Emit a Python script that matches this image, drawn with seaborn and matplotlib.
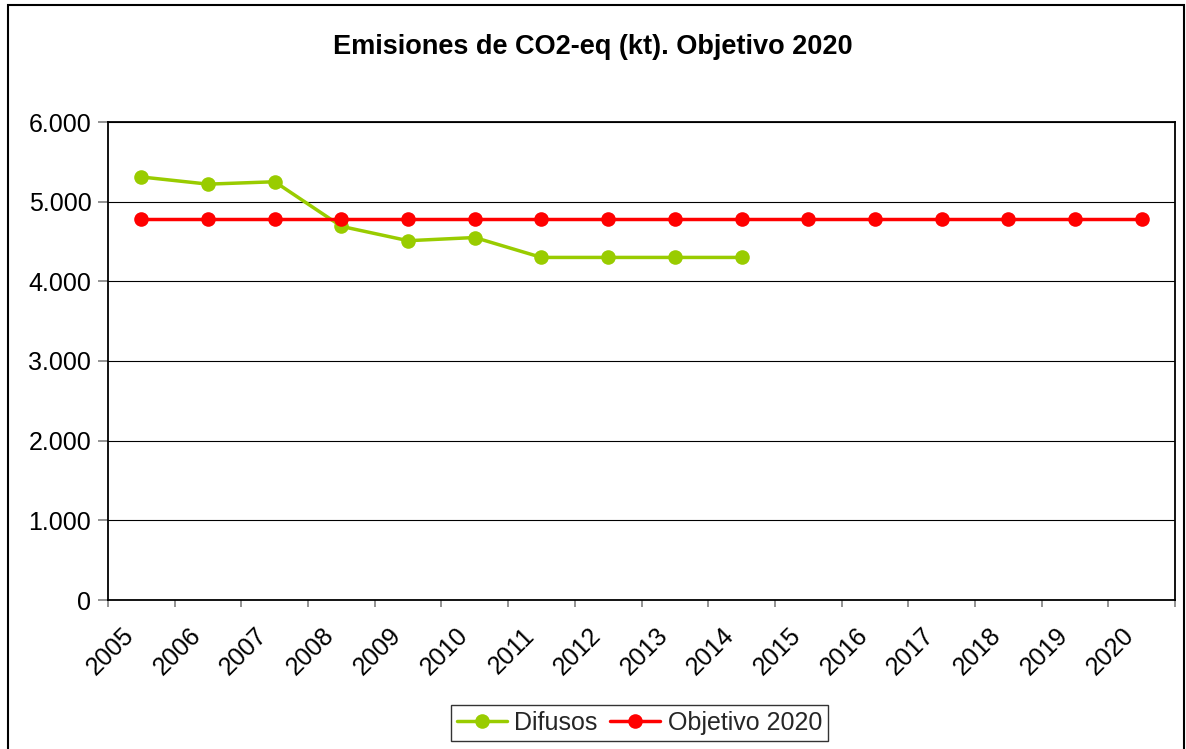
import matplotlib
matplotlib.use("Agg")
import matplotlib.pyplot as plt
import matplotlib.patches as mpatches
import matplotlib.transforms as mtransforms
import seaborn as sns
import pandas as pd
import numpy as np

years = list(range(2005, 2021))
difusos = [5310, 5220, 5250, 4690, 4510, 4550, 4300, 4300, 4300, 4300,
           None, None, None, None, None, None]
objetivo = [4780] * 16
series_names = ["Difusos", "Objetivo 2020"]
colors = ["#99CC00", "#FF0000"]
ytick_vals = [0, 1000, 2000, 3000, 4000, 5000, 6000]
ytick_labels = ["0", "1.000", "2.000", "3.000", "4.000", "5.000", "6.000"]
title = "Emisiones de CO2-eq (kt). Objetivo 2020"

df = pd.DataFrame({
    "year": years * 2,
    "value": [np.nan if v is None else v for v in difusos] + objetivo,
    "serie": [series_names[0]] * 16 + [series_names[1]] * 16,
})

sns.set_theme(style="white")
plt.rcParams["font.family"] = ["Liberation Sans", "DejaVu Sans"]

W, H = 1186, 749
fig = plt.figure(figsize=(W / 100, H / 100), dpi=100)
ax = fig.add_axes([108 / W, 1 - 600 / H, (1175 - 108) / W, (600 - 122) / H])

sns.lineplot(data=df, x="year", y="value", hue="serie", palette=colors,
             hue_order=series_names, marker="o", markersize=10.5,
             markeredgewidth=0, linewidth=2.5, ax=ax, legend=False, zorder=3)

ax.set_xlim(2004.5, 2020.5)
ax.set_ylim(0, 6000)
ax.set_xlabel("")
ax.set_ylabel("")

ax.set_yticks(ytick_vals)
ax.set_yticklabels(ytick_labels, fontsize=18, color="black")
ax.set_xticks(years)
ax.set_xticklabels([str(y) for y in years], fontsize=18, rotation=45,
                   ha="right", va="center", rotation_mode="anchor", color="black")
ax.set_xticks([y + 0.5 for y in [2004] + years], minor=True)
ax.tick_params(axis="x", which="major", length=0, pad=23)
ax.tick_params(axis="x", which="minor", length=5, width=1.2, color="#808080",
               direction="out", bottom=True)
ax.tick_params(axis="y", which="major", length=7, width=1.2, color="#808080",
               direction="out", left=True, pad=5)

shift = mtransforms.ScaledTranslation(-11 / 100, 0, fig.dpi_scale_trans)
for lab in ax.get_xticklabels():
    lab.set_transform(lab.get_transform() + shift)

ax.yaxis.grid(True, color="black", linewidth=0.8)
ax.xaxis.grid(False)
ax.set_axisbelow(True)
for s in ax.spines.values():
    s.set_visible(True)
    s.set_color("black")
    s.set_linewidth(1.3)

fig.text(0.5, 1 - 47 / H, title, ha="center", va="center",
         fontsize=19.5, fontweight="bold", color="black")

handles = ax.get_lines()[:2]
leg = fig.legend(handles, series_names, loc="center",
                 bbox_to_anchor=(639.5 / W, 1 - 723 / H), ncol=2,
                 fontsize=18, frameon=True, fancybox=False, shadow=False,
                 handlelength=2.0, handletextpad=0.3, columnspacing=0.5,
                 borderpad=0.25, borderaxespad=0)
leg.get_frame().set_edgecolor("black")
leg.get_frame().set_linewidth(1.0)

fig.patches.append(mpatches.Rectangle((8 / W, -0.05), (1184 - 8) / W, 1.05 - 5 / H,
                                      transform=fig.transFigure, fill=False,
                                      edgecolor="black", linewidth=1.5))

fig.savefig("out.png", dpi=100)
